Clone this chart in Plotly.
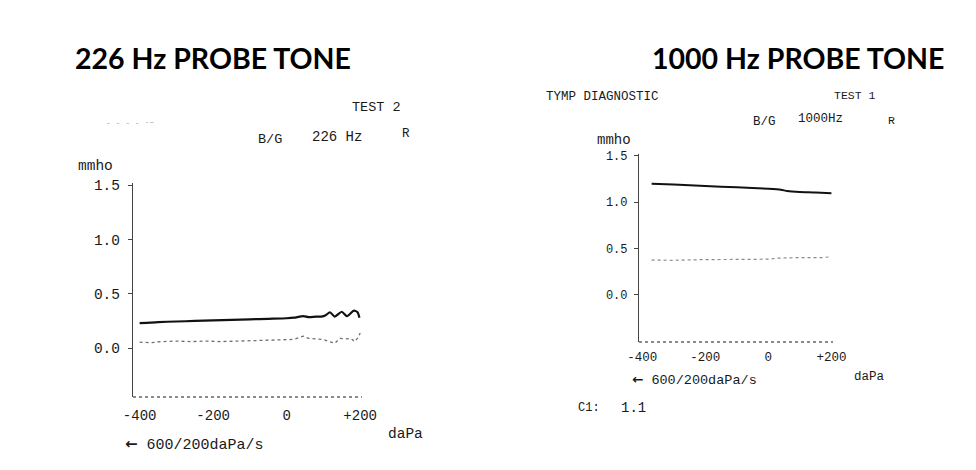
import plotly.graph_objects as go

W, H = 976, 470
OFF = 8  # page body margin of the rendered html

# ---------------- data ----------------
# 226 Hz probe tone (left panel)
p226_dark = [-400, -350, -300, -250, -200, -150, -100, -50, 0, 20, 45, 60, 80,
             95, 105, 118, 131, 150, 164, 183, 193, 198]
y226_dark = [0.23, 0.24, 0.245, 0.25, 0.255, 0.26, 0.265, 0.27, 0.275, 0.28, 0.295, 0.285, 0.29,
             0.29, 0.30, 0.33, 0.29, 0.335, 0.295, 0.345, 0.33, 0.28]
p226_light = [-400, -370, -340, -300, -260, -220, -180, -140, -100, -60, -20, 20, 45, 60,
              80, 100, 115, 131, 145, 160, 175, 185, 195, 200]
y226_light = [0.055, 0.05, 0.06, 0.065, 0.06, 0.065, 0.06, 0.065, 0.065, 0.07, 0.075, 0.08, 0.11, 0.09,
              0.085, 0.08, 0.06, 0.045, 0.09, 0.085, 0.09, 0.06, 0.1, 0.14]

# 1000 Hz probe tone (right panel)
p1000_dark = [-370, -300, -200, -100, 0, 40, 60, 100, 150, 200]
y1000_dark = [1.20, 1.19, 1.175, 1.16, 1.145, 1.135, 1.12, 1.11, 1.105, 1.095]
p1000_light = [-370, -300, -200, -120, -50, 0, 30, 80, 130, 170, 200]
y1000_light = [0.375, 0.372, 0.38, 0.378, 0.382, 0.385, 0.395, 0.40, 0.398, 0.402, 0.41]

y_tickvals = [0, 0.5, 1.0, 1.5]
y_ticktext = ["0.0", "0.5", "1.0", "1.5"]
x_tickvals = [-400, -200, 0, 200]
x_ticktext = ["-400", "-200", "0", "+200"]

titles = ["226 Hz PROBE TONE", "1000 Hz PROBE TONE"]

MONO = "Liberation Mono"
INK = "#1a1a1a"
ARROW = "<span style='font-family:DejaVu Sans;font-weight:bold'>\u2190</span>"


def px_x(x):
    return (x - OFF) / W


def px_y(y):
    return 1 - (y - OFF) / H


fig = go.Figure()

fig.add_trace(go.Scatter(x=p226_dark, y=y226_dark, mode="lines", xaxis="x", yaxis="y",
                         line=dict(color="#111111", width=2.2, shape="spline", smoothing=0.6),
                         showlegend=False, hoverinfo="skip"))
fig.add_trace(go.Scatter(x=p226_light, y=y226_light, mode="lines", xaxis="x", yaxis="y",
                         line=dict(color="#707070", width=1.3, dash="dot"),
                         showlegend=False, hoverinfo="skip"))
fig.add_trace(go.Scatter(x=p1000_dark, y=y1000_dark, mode="lines", xaxis="x2", yaxis="y2",
                         line=dict(color="#111111", width=2.0, shape="spline", smoothing=0.5),
                         showlegend=False, hoverinfo="skip"))
fig.add_trace(go.Scatter(x=p1000_light, y=y1000_light, mode="lines", xaxis="x2", yaxis="y2",
                         line=dict(color="#8a8a8a", width=1.2, dash="dot"),
                         showlegend=False, hoverinfo="skip"))

common_y = dict(tickmode="array", tickvals=y_tickvals, ticktext=y_ticktext,
                showgrid=False, zeroline=False, showline=True, linecolor="#444444",
                linewidth=1.2, ticks="outside", ticklen=4, tickcolor="#444444",
                fixedrange=True, automargin=False)
common_x = dict(tickmode="array", tickvals=x_tickvals, ticktext=x_ticktext,
                showgrid=False, zeroline=False, showline=False, ticks="",
                fixedrange=True, automargin=False)

fig.update_layout(
    template="none",
    width=W, height=H,
    margin=dict(l=0, r=0, t=0, b=0, pad=0, autoexpand=False),
    paper_bgcolor="white", plot_bgcolor="white",
    xaxis=dict(common_x, domain=[px_x(133), px_x(362)], range=[-418, 205],
               tickfont=dict(family=MONO, size=14, color=INK), anchor="y",
               ticklabelstandoff=8),
    yaxis=dict(common_y, domain=[px_y(397), px_y(183)], range=[-0.45, 1.52],
               tickfont=dict(family=MONO, size=14.5, color=INK), anchor="x",
               ticklabelstandoff=5),
    xaxis2=dict(common_x, domain=[px_x(639), px_x(833)], range=[-410, 205],
                tickfont=dict(family=MONO, size=12.5, color=INK), anchor="y2",
                ticklabelstandoff=5),
    yaxis2=dict(common_y, domain=[px_y(342), px_y(154)], range=[-0.51, 1.52],
                tickfont=dict(family=MONO, size=12, color=INK), anchor="x2",
                ticklabelstandoff=4),
)

# dotted bottom axis lines (scanned print look)
for xr, yr in (("x domain", "y domain"), ("x2 domain", "y2 domain")):
    fig.add_shape(type="line", xref=xr, yref=yr, x0=0, x1=1, y0=0, y1=0,
                  line=dict(color="#666666", width=1.3, dash="dot"))


def ann(text, x, y, size, xanchor="left", family=MONO, color=INK, bold=False):
    fig.add_annotation(text=f"<b>{text}</b>" if bold else text,
                       x=px_x(x), y=px_y(y), xref="paper", yref="paper",
                       xanchor=xanchor, yanchor="middle", showarrow=False,
                       font=dict(family=family, size=size, color=color))


# titles
ann(titles[0], 213, 58, 28.5, xanchor="center", family="Lato", color="#000000", bold=True)
ann(titles[1], 798, 58, 28.5, xanchor="center", family="Lato", color="#000000", bold=True)

# left printout texts
ann("TEST 2", 350, 107, 13.5)
ann("B/G", 256, 140, 13.5)
ann("226 Hz", 310, 137, 14)
ann("R", 400, 134, 12.5)
ann("- - - - ·~", 104, 122, 8, color="#9a9a9a")
ann("mmho", 76, 166, 14.5)
ann("daPa", 386, 434, 14.5)
ann(ARROW + " 600/200daPa/s", 123, 444, 15)

# right printout texts
ann("TYMP DIAGNOSTIC", 544, 97, 12.5)
ann("TEST 1", 832, 95, 11.5)
ann("B/G", 751, 122, 12.5)
ann("1000Hz", 796, 119, 12.5)
ann("R", 886, 121, 11.5)
ann("mmho", 595, 140, 14)
ann("daPa", 852, 377, 12.5)
ann(ARROW + " 600/200daPa/s", 630, 379, 13.5)
ann("C1:", 576, 408, 12)
ann("1.1", 619, 408, 14)

fig.write_html("out.html")
